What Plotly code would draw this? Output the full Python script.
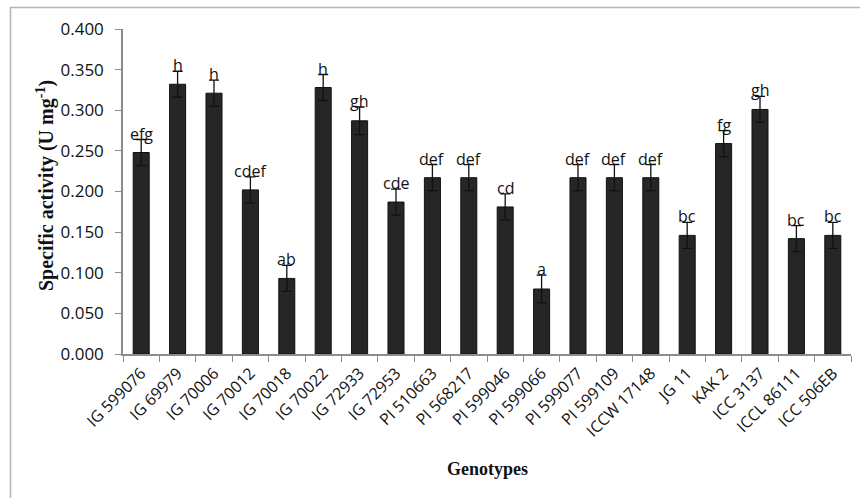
import plotly.graph_objects as go

# Specific activity per chickpea genotype, with standard error and significance letters
genotypes = [
    "IG 599076", "IG 69979", "IG 70006", "IG 70012", "IG 70018", "IG 70022",
    "IG 72933", "IG 72953", "PI 510663", "PI 568217", "PI 599046", "PI 599066",
    "PI 599077", "PI 599109", "ICCW 17148", "JG 11", "KAK 2", "ICC 3137",
    "ICCL 86111", "ICC 506EB",
]
activity = [
    0.248, 0.332, 0.321, 0.202, 0.093, 0.328,
    0.287, 0.187, 0.217, 0.217, 0.181, 0.080,
    0.217, 0.217, 0.217, 0.146, 0.259, 0.301,
    0.142, 0.146,
]
std_err = [
    0.016, 0.016, 0.016, 0.016, 0.016, 0.016,
    0.017, 0.016, 0.016, 0.016, 0.016, 0.017,
    0.016, 0.016, 0.016, 0.016, 0.016, 0.016,
    0.016, 0.016,
]
letters = [
    "efg", "h", "h", "cdef", "ab", "h",
    "gh", "cde", "def", "def", "cd", "a",
    "def", "def", "def", "bc", "fg", "gh",
    "bc", "bc",
]
y_ticks = [0.0, 0.05, 0.1, 0.15, 0.2, 0.25, 0.3, 0.35, 0.4]

SANS = "Open Sans, Lato, Liberation Sans, sans-serif"
SERIF = "Liberation Serif, Times New Roman, serif"
AXIS_GRAY = "#8c8c8c"

fig = go.Figure()
fig.add_trace(go.Bar(
    x=genotypes,
    y=activity,
    marker=dict(color="#262626", line=dict(color="#111111", width=1)),
    error_y=dict(type="data", array=std_err, visible=True,
                 color="#111111", thickness=1.3, width=5),
    showlegend=False,
    hoverinfo="x+y",
))

# Significance letters just above each error bar
for g, v, e, t in zip(genotypes, activity, std_err, letters):
    fig.add_annotation(
        x=g, y=v + e, text=t, showarrow=False,
        xref="x", yref="y", yanchor="bottom", yshift=-7,
        font=dict(family=SANS, size=16, color="#111111"),
    )

W, H = 860, 498
L, R, T, B = 123, 9, 29, 144
pw, ph = W - L - R, H - T - B

def px_x(px):
    return (px - L) / pw

def px_y(py):
    return (H - B - py) / ph

# Axis titles
fig.add_annotation(
    x=0.5, y=px_y(469), xref="paper", yref="paper",
    text="<b>Genotypes</b>", showarrow=False, yanchor="middle",
    font=dict(family=SERIF, size=18, color="#111111"),
)
fig.add_annotation(
    x=px_x(45), y=px_y(186), xref="paper", yref="paper",
    text="<b>Specific activity (U mg<sup>-1</sup>)</b>", showarrow=False,
    textangle=-90, xanchor="center", yanchor="middle",
    font=dict(family=SERIF, size=20, color="#111111"),
)

# Light frame around the chart area
fig.add_shape(
    type="rect", xref="paper", yref="paper",
    x0=px_x(10.5), x1=px_x(880), y0=px_y(520), y1=px_y(7.5),
    line=dict(color="#b4b4b4", width=1.5), fillcolor="rgba(0,0,0,0)",
    layer="below",
)

fig.update_layout(
    width=W, height=H,
    margin=dict(l=L, r=R, t=T, b=B, autoexpand=False),
    paper_bgcolor="white", plot_bgcolor="white",
    bargap=0.56,
    font=dict(family=SANS, color="#111111"),
)
fig.update_xaxes(
    type="category",
    tickangle=-45,
    tickson="boundaries",
    ticks="outside", ticklen=6, tickcolor=AXIS_GRAY,
    showline=True, linecolor=AXIS_GRAY, linewidth=1.5,
    showgrid=False,
    ticklabelstandoff=2,
    tickfont=dict(family=SANS, size=16, color="#111111"),
)
fig.update_yaxes(
    range=[0, 0.4],
    tickvals=y_ticks,
    tickformat=".3f",
    ticks="outside", ticklen=6, tickcolor=AXIS_GRAY,
    showline=True, linecolor=AXIS_GRAY, linewidth=1.5,
    showgrid=False, zeroline=False,
    ticklabelstandoff=8,
    tickfont=dict(family=SANS, size=17, color="#111111"),
)

fig.write_html("out.html")
